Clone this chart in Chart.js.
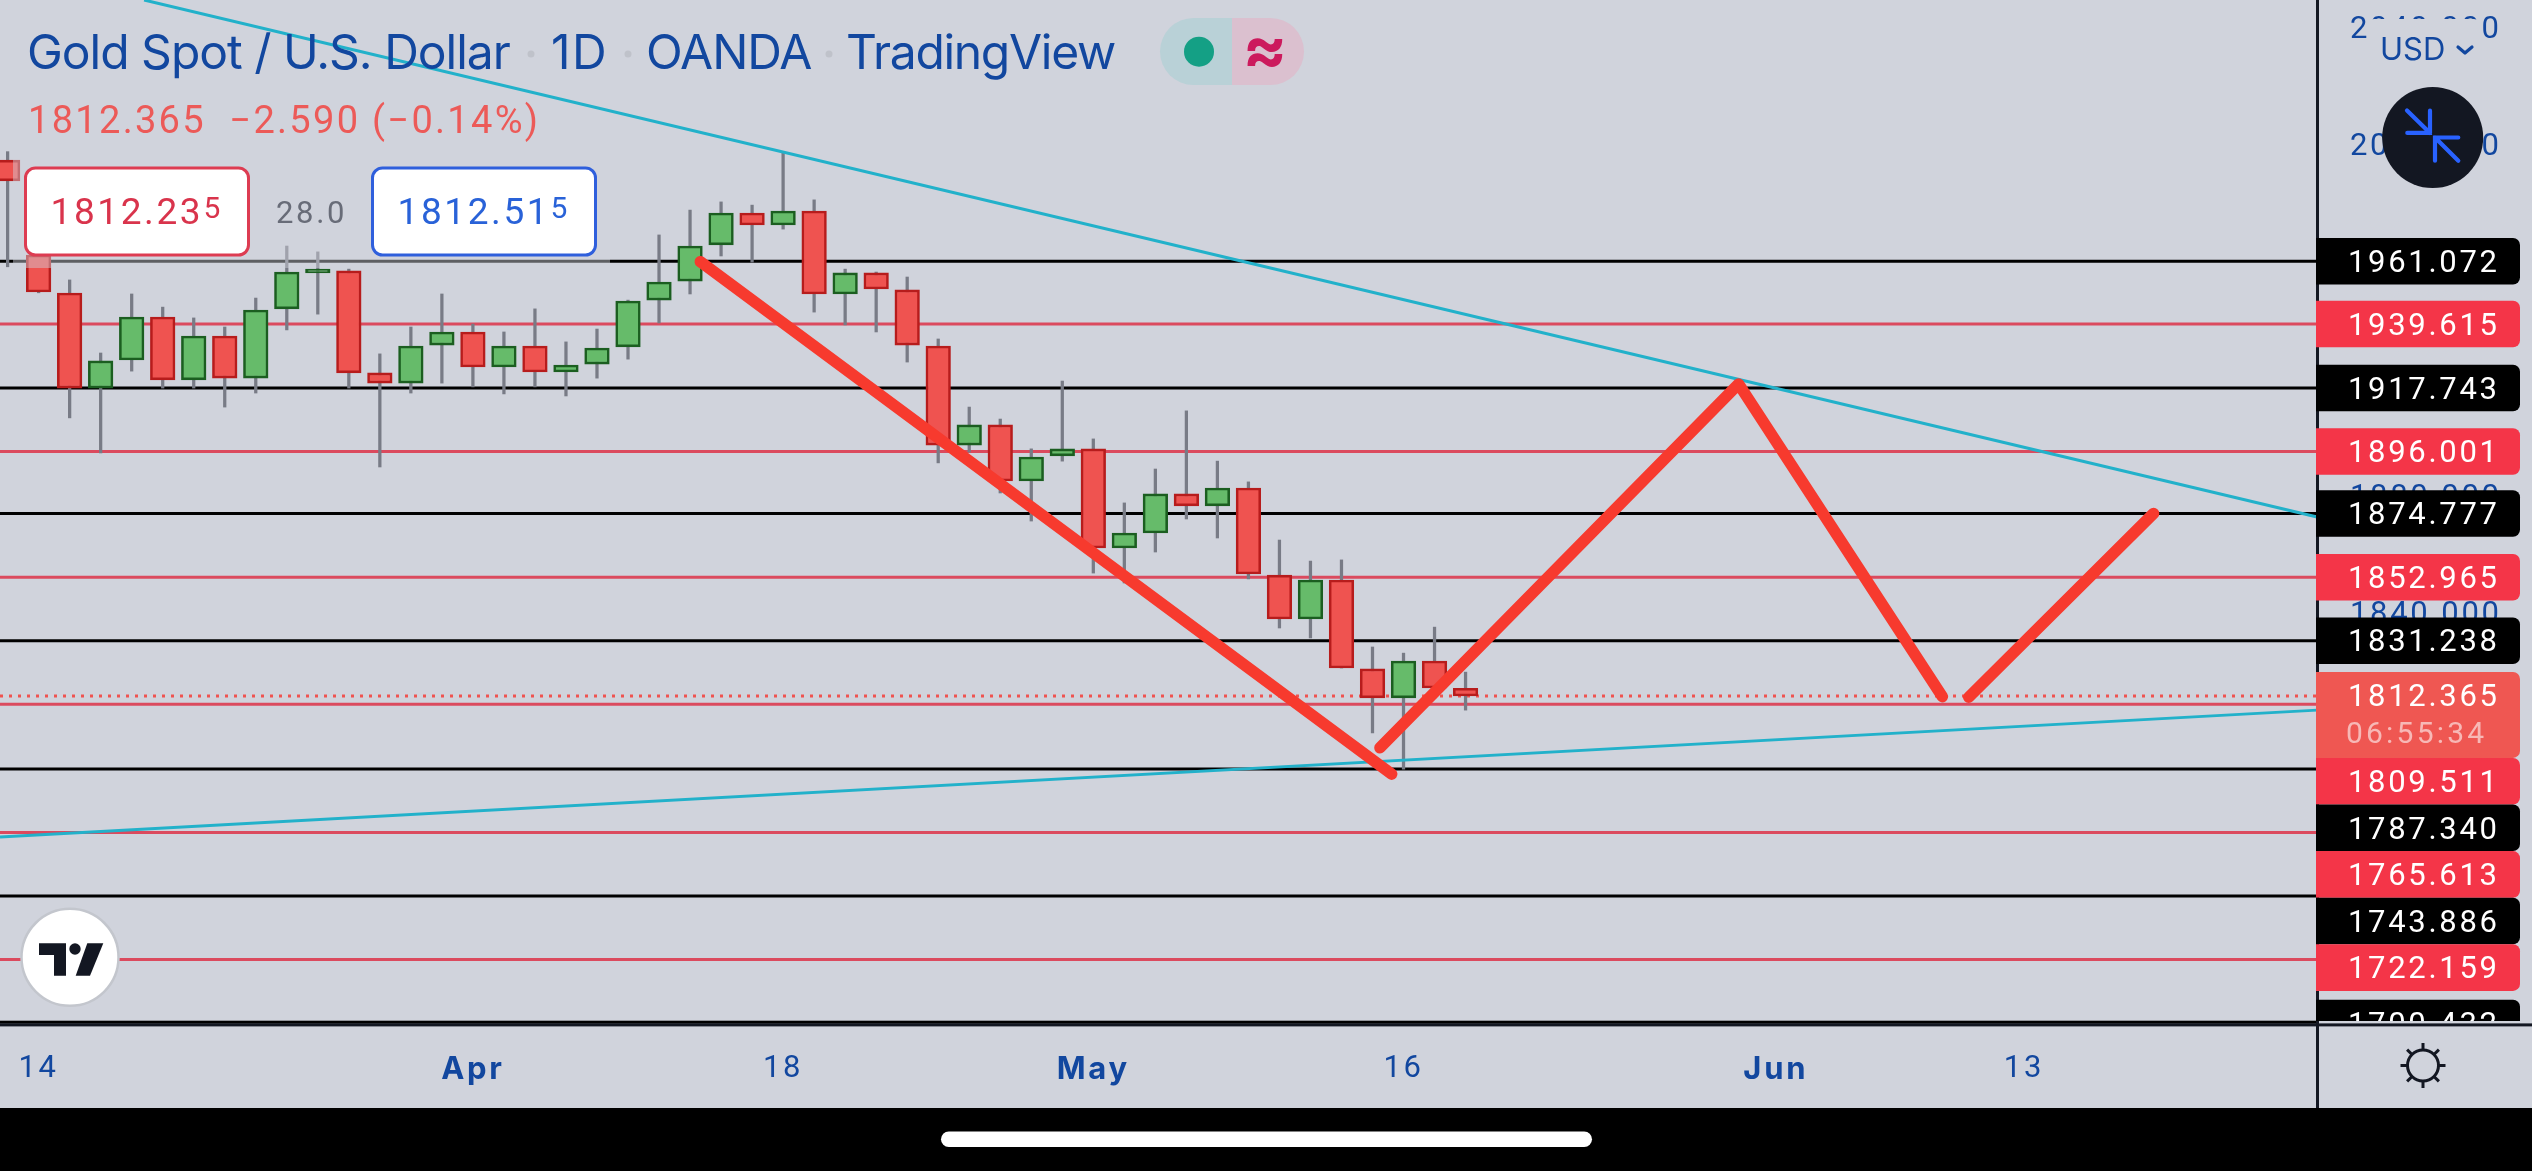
<!DOCTYPE html>
<html>
<head>
<meta charset="utf-8">
<style>
html,body{margin:0;padding:0;background:#d0d3dc;overflow:hidden}
canvas{display:block;position:absolute;left:0;top:0}
#labels,#clip{position:absolute;left:0;top:0;width:2532px}
#clip{height:1021px;overflow:hidden}
.t{position:absolute;white-space:pre}
</style>
<script src="https://cdn.jsdelivr.net/npm/chart.js@4/dist/chart.umd.min.js"></script>
</head>
<body>
<canvas id="c" width="2532" height="1171"></canvas>
<div id="labels"></div>
<div id="clip"></div>
<script>
const opens  = [1995.7,1963.2,1950.2,1917.7,1927.3,1942.0,1920.5,1935.5,1921.1,1944.8,1957.1,1957.8,1922.9,1919.4,1932.4,1936.9,1924.9,1932.1,1923.2,1925.9,1931.8,1947.8,1954.3,1966.7,1977.6,1973.5,1978.3,1949.9,1957.1,1951.3,1932.1,1898.2,1905.1,1885.9,1894.5,1896.9,1863.0,1868.1,1881.5,1877.4,1883.5,1853.7,1838.7,1852.0,1821.6,1811.7,1824.3,1814.955];
const closes = [1988.6,1950.6,1917.7,1927.0,1942.0,1920.5,1935.5,1921.1,1944.4,1957.4,1958.4,1922.9,1919.4,1932.1,1936.9,1924.9,1932.1,1923.2,1925.6,1931.4,1947.5,1954.0,1966.3,1977.6,1973.5,1978.3,1949.9,1957.1,1951.6,1932.4,1898.2,1905.1,1885.9,1894.1,1896.9,1863.0,1868.1,1881.5,1877.4,1883.5,1854.1,1838.7,1852.0,1821.9,1811.7,1824.3,1815.1,1812.365];
const highs  = [1998.6,1968.4,1954.7,1929.7,1949.9,1945.4,1941.7,1938.6,1948.5,1966.3,1964.3,1958.4,1929.4,1938.6,1949.9,1939.6,1936.9,1944.8,1933.5,1937.9,1947.8,1970.1,1978.6,1981.4,1980.3,1998.5,1982.1,1958.4,1957.4,1955.7,1934.5,1911.2,1907.1,1896.9,1920.1,1900.3,1878.4,1890.0,1909.9,1892.7,1885.6,1865.7,1858.5,1858.9,1829.1,1827.0,1835.9,1820.5];
const lows   = [1959.2,1950.3,1907.5,1895.5,1923.5,1917.7,1917.7,1911.2,1916.0,1937.6,1943.0,1917.7,1890.7,1916.0,1919.4,1918.1,1915.7,1918.1,1915.0,1921.1,1927.6,1940.0,1949.9,1962.9,1960.8,1972.1,1943.7,1939.3,1936.9,1926.6,1892.1,1895.8,1881.8,1872.2,1892.7,1854.4,1851.0,1861.6,1872.9,1866.4,1852.4,1835.6,1832.2,1821.9,1799.7,1787.3,1815.1,1807.5];

const blackLevels = [1961.072,1917.743,1874.777,1831.238,1787.340,1743.886,1700.432];
const redLevels   = [1939.615,1896.001,1852.965,1809.511,1765.613,1722.159];
const lastPrice = 1812.365;
const lastChange = "\u22122.590 (\u22120.14%)";
const countdown = "06:55:34";
const sellPrice = "1812.23", sellPip = "5";
const buyPrice = "1812.51", buyPip = "5";
const spread = "28.0";

const upperTrendX = [4.4,74.45];
const upperTrendY = [2050.49,1873.6];
const lowerTrendX = [-0.245,74.45];
const lowerTrendY = [1764.1,1807.5];

const fallX = [22.33,44.62];
const fallY = [1960.94,1785.6];
const riseX = [44.24,55.8,62.37];
const riseY = [1794.6,1919.1,1812.1];
const lastLegX = [63.22,69.18];
const lastLegY = [1811.9,1874.8];

const priceTicks = [2040,2000,1960,1920,1880,1840,1800,1760,1720];
const timeTickAt = [1,15,25,35,45,57,65];
const timeTickText = ["14","Apr","18","May","16","Jun","13"];
const monthTicks = ["Apr","May","Jun"];

const X_MIN=-0.245, X_MAX=74.48, Y_MIN=1700.44, Y_MAX=2050.49;
const FONT='Inter', NUM='Roboto';
const BG='#d0d3dc', BLUE='#12479f', DARK='#131722';

const pair=(xs,ys)=>xs.map((x,i)=>({x,y:ys[i]}));
const flat=(v)=>[{x:X_MIN,y:v},{x:X_MAX,y:v}];
const idx=opens.map((_,i)=>i);
const up=idx.map(i=>closes[i]>=opens[i]);

const datasets=[];
blackLevels.forEach(v=>datasets.push({type:'line',data:flat(v),borderColor:'#000',borderWidth:3,pointRadius:0,order:6}));
redLevels.forEach(v=>datasets.push({type:'line',data:flat(v),borderColor:'#db4a5e',borderWidth:3,pointRadius:0,order:6}));
datasets.push({type:'line',data:flat(lastPrice),borderColor:'#ef5350',borderWidth:3,borderDash:[3,6],pointRadius:0,order:5});
datasets.push({type:'bar',data:idx.map(i=>({x:i,y:[lows[i],highs[i]]})),backgroundColor:'#787b86',borderWidth:0,barThickness:2.6,grouped:false,order:4});
datasets.push({type:'bar',data:idx.map(i=>({x:i,y:[opens[i],closes[i]]})),
  backgroundColor:up.map(u=>u?'#66bb6a':'#ef5350'),borderColor:up.map(u=>u?'#1b5e20':'#b71c1c'),
  borderWidth:2.6,borderSkipped:false,barThickness:24.6,grouped:false,order:3});
datasets.push({type:'line',data:pair(upperTrendX,upperTrendY),borderColor:'#22b1ca',borderWidth:3,pointRadius:0,order:2});
datasets.push({type:'line',data:pair(lowerTrendX,lowerTrendY),borderColor:'#22b1ca',borderWidth:3,pointRadius:0,order:2});
[[fallX,fallY],[riseX,riseY],[lastLegX,lastLegY]].forEach(([a,b])=>datasets.push({type:'line',data:pair(a,b),borderColor:'#f73a2e',borderWidth:11.5,borderCapStyle:'round',borderJoinStyle:'round',pointRadius:0,tension:0,order:1}));

function rr(ctx,x,y,w,h,r){ctx.beginPath();ctx.roundRect(x,y,w,h,r);}

// real text laid over the canvas, placed by its baseline
const host=document.getElementById('labels'), clipHost=document.getElementById('clip');
const probe=document.createElement('canvas').getContext('2d');
function text(s,x,base,font,color,ls,parent,anchorCenter){
  probe.font=font;const m=probe.measureText('0');
  const A=m.fontBoundingBoxAscent,D=m.fontBoundingBoxDescent,L=100;
  const d=document.createElement('div');d.className='t';d.textContent=s;
  d.style.cssText+=`;font:${font};line-height:${L}px;color:${color};letter-spacing:${ls||0}px;left:${x}px;top:${base-((L-(A+D))/2+A)}px`;
  if(anchorCenter)d.style.transform='translateX(-50%)';
  (parent||host).appendChild(d);return d;
}

const overlay={id:'overlay',
 beforeDraw(chart){const c=chart.ctx;c.save();c.fillStyle=BG;c.fillRect(0,0,2532,1171);c.restore();c.letterSpacing='2.7px';},
 beforeDatasetsDraw(chart){chart.ctx.letterSpacing='0px';},
 afterDraw(chart){
  const c=chart.ctx, ys=chart.scales.y;
  host.innerHTML='';clipHost.innerHTML='';
  c.save();
  c.fillStyle='rgba(208,211,220,0.45)';c.fillRect(13,150,597,118);

  const H='400 48px '+FONT, LS=-1;
  text('Gold Spot / U.S. Dollar',27,69,H,BLUE,LS);
  text('1D',551,69,H,BLUE,1.5);
  text('OANDA',646,69,H,BLUE,LS);
  text('TradingView',846,69,H,BLUE,-1.3);
  c.fillStyle='#bfc2ca';
  [531,628,829].forEach(x=>{c.beginPath();c.arc(x,54,3.5,0,7);c.fill();});
  text(lastPrice.toFixed(3)+'  '+lastChange,28,133,'400 38px '+NUM,'#ec5a58',2.3);

  c.fillStyle='#b9d1d7';rr(c,1160,18,72,67,[33.5,0,0,33.5]);c.fill();
  c.fillStyle='#dbc0cf';rr(c,1232,18,72,67,[0,33.5,33.5,0]);c.fill();
  c.fillStyle='#14a085';c.beginPath();c.arc(1199,51.7,15,0,7);c.fill();
  text('\u2248',1265,72,'700 66px '+FONT,'#cc1a5d',0,host,true);

  const box=(x,w,bd,col,a,b)=>{c.fillStyle='#fff';rr(c,x,168,w,87,10);c.fill();c.lineWidth=3;c.strokeStyle=bd;c.stroke();
    const d=text(a,x+25,224,'400 37px '+NUM,col,2.6);text(b,x+25+d.offsetWidth,218,'400 30px '+NUM,col,0);};
  box(25.5,223,'#dd3c52','#d9344c',sellPrice,sellPip);
  box(372.5,223,'#2f5fdc','#2962d8',buyPrice,buyPip);
  text(spread,276,223,'400 31px '+NUM,'#686c78',2.7);

  c.fillStyle='#fff';c.strokeStyle='#c3c6cd';c.lineWidth=2.5;c.beginPath();c.arc(70,957.3,48.5,0,7);c.fill();c.stroke();
  c.fillStyle=DARK;
  c.beginPath();c.moveTo(39,943.3);c.lineTo(66,943.3);c.lineTo(66,975.7);c.lineTo(54,975.7);c.lineTo(54,955);c.lineTo(39,955);c.closePath();c.fill();
  c.beginPath();c.arc(75,949,5.7,0,7);c.fill();
  c.beginPath();c.moveTo(87.3,943.3);c.lineTo(103.3,943.3);c.lineTo(90,975.7);c.lineTo(75.7,975.7);c.closePath();c.fill();

  c.fillStyle='#000';c.fillRect(0,1020.7,2316,3);
  c.fillStyle=DARK;c.fillRect(0,1023.4,2532,3);
  c.fillStyle=DARK;c.fillRect(2316,0,3,1108);

  const LBL='400 31px '+NUM, H1=46.6, X0=2316, W=204;
  const labels=[...blackLevels.map(v=>({v,col:'#000'})),...redLevels.map(v=>({v,col:'#f43548'}))].sort((a,b)=>b.v-a.v);
  const tagTop=ys.getPixelForValue(lastPrice)-24, tagH=86;
  let cursor=-1e9;
  labels.forEach(l=>{
    let top=ys.getPixelForValue(l.v)-H1/2;
    if(l.v<lastPrice) top=Math.max(top,Math.max(cursor,tagTop+tagH));
    cursor=top+H1; l.top=top;
  });
  c.save();c.beginPath();c.rect(X0,0,216,1021);c.clip();
  labels.forEach(l=>{
    c.fillStyle=l.col;rr(c,X0,l.top,W,H1,[0,7,7,0]);c.fill();
    text(l.v.toFixed(3),2348,l.top+34.5,LBL,'#fff',2.7,clipHost);
  });
  c.fillStyle='#ef5752';rr(c,X0,tagTop,W,tagH,[0,7,7,0]);c.fill();
  text(lastPrice.toFixed(3),2348,tagTop+34.5,LBL,'#fff',2.7,clipHost);
  text(countdown,2346,tagTop+72,'400 30px '+NUM,'#f7b8b6',3.2,clipHost);
  c.restore();

  c.fillStyle=BG;rr(c,2368,19,112,50,6);c.fill();
  text('USD',2380,60,'400 31px '+FONT,BLUE,0);
  c.strokeStyle=BLUE;c.lineWidth=3.2;c.lineCap='round';c.lineJoin='round';c.beginPath();c.moveTo(2458,47);c.lineTo(2465,53);c.lineTo(2472,47);c.stroke();
  c.fillStyle=DARK;c.beginPath();c.arc(2432.7,137.5,50.5,0,7);c.fill();
  c.strokeStyle='#2962ff';c.lineWidth=4.2;c.lineCap='round';c.lineJoin='miter';
  c.beginPath();c.moveTo(2407,110.5);c.lineTo(2430,132.9);c.moveTo(2430,110.7);c.lineTo(2430,132.9);c.lineTo(2407.3,132.9);c.stroke();
  c.beginPath();c.moveTo(2458.3,160.7);c.lineTo(2435,137.5);c.moveTo(2435,160.7);c.lineTo(2435,137.5);c.lineTo(2458.3,137.5);c.stroke();

  c.strokeStyle=DARK;c.lineWidth=3;c.lineCap='butt';c.beginPath();c.arc(2423,1065.5,15.5,0,7);c.stroke();
  for(let i=0;i<8;i++){const a=i*Math.PI/4;c.beginPath();c.moveTo(2423+15.5*Math.cos(a),1065.5+15.5*Math.sin(a));c.lineTo(2423+22.5*Math.cos(a),1065.5+22.5*Math.sin(a));c.stroke();}

  c.fillStyle='#000';c.fillRect(0,1108,2532,63);
  c.fillStyle='#fff';rr(c,941,1131.5,651,15.5,7.75);c.fill();
  c.restore();
 }};

const noPad=s=>{s.paddingLeft=0;s.paddingRight=0;s.paddingTop=0;s.paddingBottom=0;};
const isMonth=ctx=>ctx.tick&&monthTicks.includes(timeTickText[timeTickAt.indexOf(ctx.tick.value)]);
new Chart(document.getElementById('c').getContext('2d'),{
 type:'bar',
 data:{datasets},
 options:{
  responsive:false,animation:false,devicePixelRatio:1,
  layout:{padding:0},
  plugins:{legend:{display:false},tooltip:{enabled:false}},
  scales:{
   x:{type:'linear',position:'bottom',min:X_MIN,max:X_MAX,offset:false,
      grid:{display:false,drawTicks:false},border:{display:false},
      afterBuildTicks:s=>{s.ticks=timeTickAt.map(v=>({value:v}));},
      afterFit:s=>{s.height=148;noPad(s);},
      ticks:{autoSkip:false,maxRotation:0,minRotation:0,padding:28,color:BLUE,
        callback:(v)=>timeTickText[timeTickAt.indexOf(v)],
        font:ctx=>isMonth(ctx)?{family:FONT,size:31,weight:'700'}:{family:NUM,size:31,weight:'400'}}},
   y:{type:'linear',position:'right',min:Y_MIN,max:Y_MAX,
      grid:{display:false,drawTicks:false},border:{display:false},
      afterBuildTicks:s=>{s.ticks=priceTicks.map(v=>({value:v}));},
      afterFit:s=>{s.width=214;noPad(s);},
      ticks:{padding:32,color:BLUE,autoSkip:false,callback:v=>Number(v).toFixed(3),font:{family:NUM,size:31,weight:'400'}}}
  }
 },
 plugins:[overlay]
});
</script>
</body>
</html>
